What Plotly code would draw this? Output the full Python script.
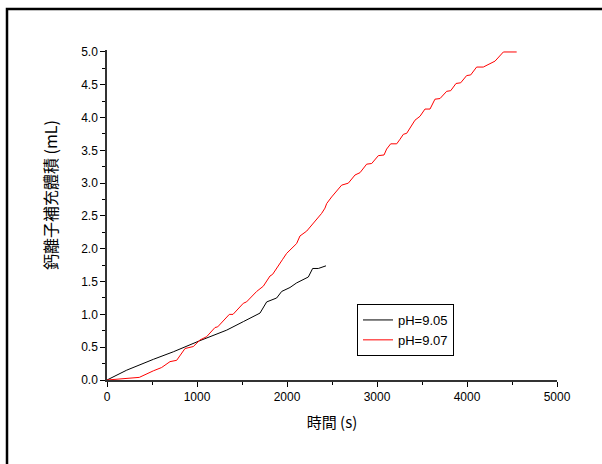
import plotly.graph_objects as go

# pH=9.05 series
t_905 = [0, 219, 515, 737, 1033, 1330, 1515, 1700, 1774, 1885, 1941, 2033, 2107, 2237, 2285, 2348, 2433]
v_905 = [0, 0.15, 0.315, 0.43, 0.60, 0.76, 0.89, 1.02, 1.19, 1.25, 1.35, 1.41, 1.48, 1.57, 1.70, 1.70, 1.74]

# pH=9.07 series
t_907 = [0, 219, 359, 515, 607, 700, 774, 867, 959, 1033, 1107, 1200, 1230, 1359, 1400, 1515, 1550,
         1663, 1737, 1811, 1840, 1952, 1996, 2107, 2144, 2219, 2330, 2385, 2422, 2441, 2496, 2607,
         2681, 2756, 2811, 2885, 2941, 3015, 3078, 3107, 3152, 3219, 3256, 3293, 3330, 3422, 3478,
         3533, 3589, 3644, 3700, 3774, 3819, 3878, 3930, 3996, 4041, 4107, 4181, 4311, 4404, 4552]
v_907 = [0, 0.025, 0.04, 0.14, 0.19, 0.28, 0.30, 0.48, 0.51, 0.61, 0.66, 0.80, 0.81, 1.00, 1.00, 1.17, 1.19,
         1.35, 1.43, 1.585, 1.61, 1.84, 1.93, 2.08, 2.195, 2.27, 2.44, 2.54, 2.62, 2.69, 2.79, 2.97,
         3.00, 3.125, 3.16, 3.29, 3.30, 3.42, 3.43, 3.52, 3.60, 3.60, 3.67, 3.745, 3.76, 3.96, 4.02,
         4.13, 4.13, 4.28, 4.29, 4.40, 4.41, 4.52, 4.53, 4.64, 4.65, 4.77, 4.77, 4.86, 5.00, 5.00]

x_ticks = [0, 1000, 2000, 3000, 4000, 5000]
y_ticks = [0.0, 0.5, 1.0, 1.5, 2.0, 2.5, 3.0, 3.5, 4.0, 4.5, 5.0]

L, R, T, B = 107, 557, 50, 380
W, H = 602, 464

fig = go.Figure()
fig.add_trace(go.Scatter(x=t_905, y=v_905, mode="lines", name="pH=9.05",
                         line=dict(color="black", width=1)))
fig.add_trace(go.Scatter(x=t_907, y=v_907, mode="lines", name="pH=9.07",
                         line=dict(color="#ff0000", width=1)))

tickfont = dict(family="Liberation Sans, Arial", size=12, color="black")
cjk = "Noto Sans CJK TC"

fig.update_layout(
    width=W, height=H,
    margin=dict(l=L, r=W - R, t=T, b=H - B, pad=0),
    paper_bgcolor="white", plot_bgcolor="white",
    showlegend=True,
    legend=dict(x=(357 - L) / (R - L), y=(B - 304) / (B - T), xanchor="left", yanchor="top",
                bordercolor="black", borderwidth=1, bgcolor="white",
                font=dict(family="Liberation Sans, Arial", size=13, color="black"),
                tracegroupgap=0, itemwidth=30),
    xaxis=dict(range=[0, 5000], tickvals=x_ticks, ticktext=[str(v) for v in x_ticks],
               ticks="outside", ticklen=5, tickwidth=1, tickcolor="black",
               minor=dict(dtick=500, tick0=0, ticks="outside", ticklen=3, tickwidth=1, tickcolor="black"),
               showline=True, linecolor="#333", linewidth=1.5, showgrid=False, zeroline=False,
               tickfont=tickfont,
               title=dict(text="時間 (s)", font=dict(family=cjk, size=15, color="black"), standoff=14)),
    yaxis=dict(range=[0, 5.03], tickvals=y_ticks, ticktext=[f"{v:.1f}" for v in y_ticks],
               ticks="outside", ticklen=5, tickwidth=1, tickcolor="black",
               minor=dict(dtick=0.25, tick0=0, ticks="outside", ticklen=3, tickwidth=1, tickcolor="black"),
               showline=True, linecolor="#333", linewidth=1.5, showgrid=False, zeroline=False,
               tickfont=tickfont),
    annotations=[dict(text="鈣離子補充體積 (mL)", textangle=-90, showarrow=False,
                      xref="paper", yref="paper",
                      x=(50 - L) / (R - L), y=(B - 195) / (B - T),
                      xanchor="center", yanchor="middle",
                      font=dict(family=cjk, size=16, color="black"))],
)

# outer frame (left and top edges)
fx = (7 - L) / (R - L)
fy = (B - 9) / (B - T)
fig.add_shape(type="path", xref="paper", yref="paper",
              path=f"M {fx} -0.5 L {fx} {fy} L 1.2 {fy}",
              line=dict(color="black", width=2.5))

fig.write_html("out.html")
